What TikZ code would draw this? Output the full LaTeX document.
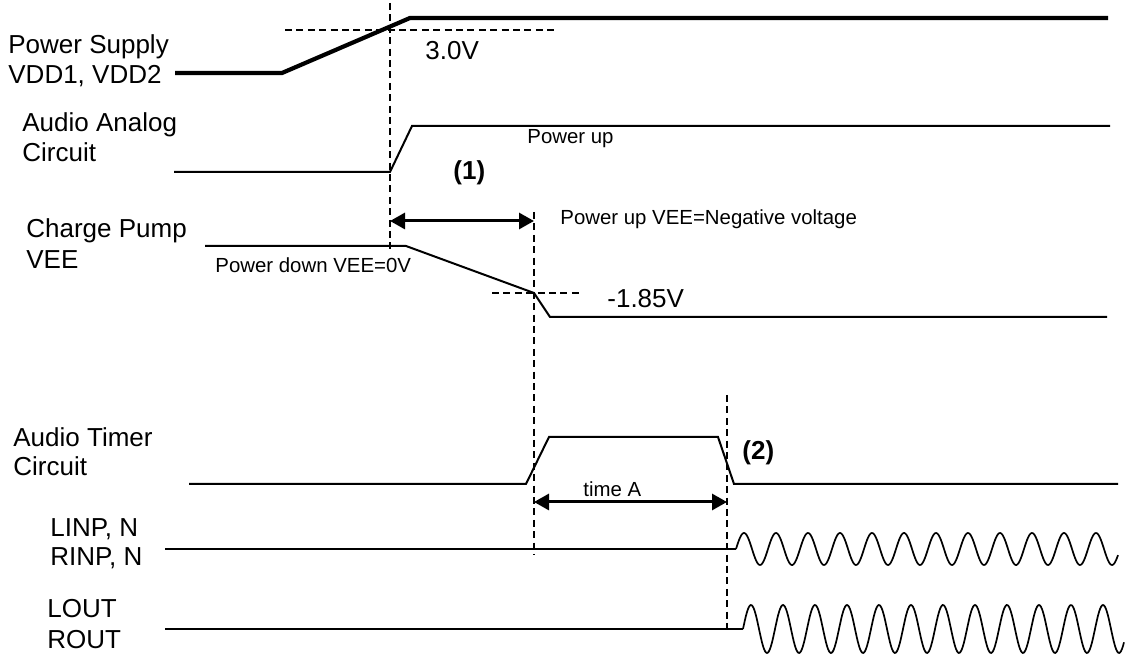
\documentclass[tikz,border=0pt]{standalone}
\usepackage{fontspec}
\setmainfont{Liberation Sans}
\usetikzlibrary{arrows.meta}
\tikzset{
  % one pixel of the sheet is half a point, y runs downwards
  sig/.style   = {line width=1pt, line join=miter},
  rail/.style  = {line width=2.1pt, line join=miter},
  wave/.style  = {line width=0.85pt},
  guide/.style = {line width=0.7pt, dash pattern=on 3.5pt off 2.2pt},
  span/.style  = {{Triangle[length=7.5pt,width=8pt]}-{Triangle[length=7.5pt,width=8pt]},
                  line width=1.5pt},
  lbl/.style   = {anchor=base west, inner sep=0pt, font=\fontsize{13}{15}\selectfont},
  tag/.style   = {anchor=base west, inner sep=0pt, font=\fontsize{10.2}{12}\selectfont},
  num/.style   = {anchor=base west, inner sep=0pt, font=\fontsize{13}{15}\selectfont\bfseries},
}

\begin{document}
\begin{tikzpicture}[x=0.5pt,y=-0.5pt]
\useasboundingbox (0,0) rectangle (1126,656);
% signal names
\foreach \nm/\x/\y/\txt in {ps/8/54/{Power Supply},vdd/8/84/{VDD1, VDD2},
                            aa/22/132/{Audio Analog},aac/22/162/{Circuit},
                            cp/26/238/{Charge Pump},vee/26/269/{VEE},
                            at/13/447/{Audio Timer},atc/13/476/{Circuit},
                            linp/50/537/{LINP, N},rinp/50/566/{RINP, N},
                            lout/47/618/{LOUT},rout/47/649/{ROUT}}
  {\node[lbl] (l\nm) at (\x,\y) {\txt};}
% power supply
\draw[rail] (175,73) -- (282,73) -- (410,18) -- (1108,18);
\draw[guide] (285,30) -- (558,30);
\node[lbl] (v30) at (425,60) {3.0V};
% audio analog circuit
\draw[sig] (174,172) -- (390,172) -- (412,126) -- (1110,126);
\node[tag] (pup) at (527,144) {Power up};
\node[num] (n1) at (453,180) {(1)};
% charge pump
\draw[sig] (205,246) -- (406,246) -- (534,293) -- (550,317) -- (1107,317);
\draw[guide] (492,293) -- (582,293);
\node[tag] (pdn) at (215,273) {Power down VEE=0V};
\node[tag] (pneg) at (560,225) {Power up VEE=Negative voltage};
\node[lbl] (v185) at (607,308) {-1.85V};
% audio timer circuit
\draw[sig] (189,484) -- (526,484) -- (549,437) -- (718,437) -- (734,484) -- (1118,484);
\node[num] (n2) at (742,460) {(2)};
\node[tag] (ta) at (583,497) {time A};
% inputs and outputs
\draw[sig] (165,549) -- (736,549);
\draw[wave] (736,549) -- plot[domain=736:1118, samples=400] (\x, {549-16*sin(11.25*(\x-736))});
\draw[sig] (165,629) -- (743,629);
\draw[wave] (743,629) -- plot[domain=743:1124, samples=400] (\x, {629-24*sin(11.25*(\x-743))});
% time marks
\draw[guide] (390,3) -- (390,250);
\draw[guide] (534,212) -- (534,555);
\draw[guide] (727,395) -- (727,630);
\coordinate (s1a) at (390,221);
\coordinate (s1b) at (534,221);
\coordinate (s2a) at (534,502);
\coordinate (s2b) at (727,502);
\draw[span] (s1a) -- (s1b);
\draw[span] (s2a) -- (s2b);
\end{tikzpicture}
\end{document}
